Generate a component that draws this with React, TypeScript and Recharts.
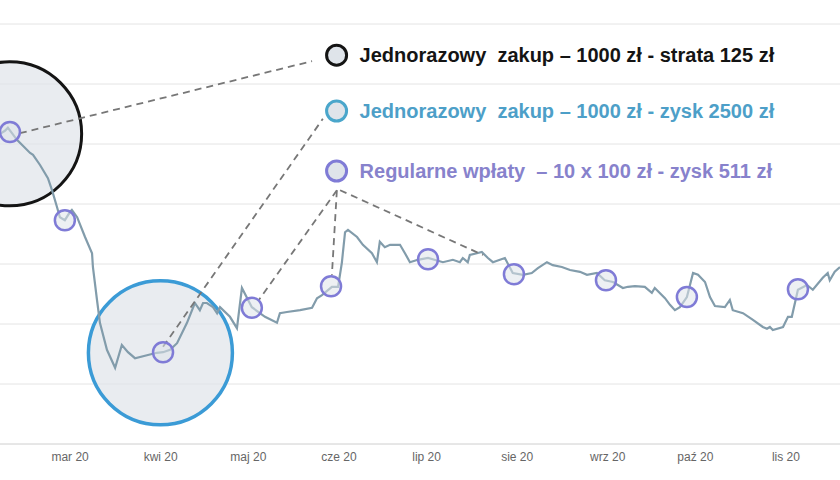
import {
  ComposedChart,
  Line,
  Scatter,
  XAxis,
  YAxis,
  CartesianGrid,
  ReferenceDot,
  ReferenceLine,
  Label,
} from "recharts";

// days counted from 1 Feb 2020
const days = [
  5.0, 6.7, 7.7, 9.1, 10.8, 15.3, 16.3, 18.7, 21.4, 22.8, 24.5, 25.5, 27.2, 29.0, 29.6, 31.4,
  34.1, 36.5, 36.8, 38.2, 39.2, 41.6, 44.4, 46.7, 48.8, 51.2, 55.3, 58.7, 60.8, 63.2, 65.6,
  69.0, 71.7, 73.4, 74.5, 75.8, 77.9, 79.3, 80.3, 83.7, 86.1, 87.8, 91.2, 95.7, 99.8, 100.8,
  103.2, 107.7, 111.8, 113.5, 115.2, 118.6, 120.7, 122.0, 123.1, 124.1, 127.2, 129.2, 132.3,
  134.0, 135.0, 136.7, 138.5, 141.9, 143.6, 145.3, 148.0, 151.5, 156.6, 160.0, 162.4, 163.4,
  165.1, 165.8, 168.2, 169.9, 172.0, 173.7, 176.1, 177.8, 180.5, 184.0, 187.0, 189.1, 192.2,
  194.2, 197.3, 200.1, 203.5, 205.9, 209.3, 212.0, 214.8, 218.2, 219.9, 222.3, 225.7, 228.1,
  229.1, 232.6, 234.3, 236.0, 237.7, 240.1, 242.2, 243.9, 246.3, 248.0, 249.7, 253.1, 254.8,
  255.8, 259.3, 262.7, 266.1, 267.5, 268.5, 269.5, 273.0, 274.7, 276.0, 278.1, 281.2, 283.2,
  286.6, 288.3, 289.0, 290.7, 292.5,
];
const prices = [
  51.7, 52.2, 52.7, 51.8, 50.7, 48.5, 48.2, 46.5, 44.3, 42.3, 39.5, 37.8, 37.3, 38.7, 39.0, 37.8,
  34.5, 31.8, 29.5, 24.0, 20.2, 15.7, 12.7, 16.5, 15.3, 14.3, 14.8, 15.2, 15.3, 15.7, 16.8,
  20.2, 23.5, 22.3, 23.5, 23.5, 22.8, 21.8, 22.8, 21.2, 19.3, 26.0, 22.8, 21.2, 20.2, 21.8,
  22.0, 22.3, 22.7, 24.3, 24.8, 26.2, 26.2, 30.2, 35.3, 35.7, 34.5, 33.2, 31.8,
  30.3, 33.7, 32.8, 33.2, 33.2, 31.8, 30.3, 30.7, 31.0, 30.3, 30.7, 30.3, 31.0,
  30.3, 31.5, 31.8, 32.0, 31.0, 30.3, 30.7, 31.0, 28.5, 28.2, 28.5, 29.3, 30.3,
  29.8, 29.5, 29.0, 28.7, 28.2, 28.5, 27.3, 27.0, 26.0, 26.2, 26.3, 26.2, 25.2,
  26.0, 24.3, 23.2, 22.3, 22.8, 24.5, 28.5, 28.2, 27.0, 24.5, 23.0, 22.8, 24.0,
  22.3, 21.8, 20.7, 19.5, 19.2, 19.5, 19.0, 19.5, 21.2, 21.2, 25.7, 26.5, 25.7,
  27.7, 28.5, 27.3, 28.7, 29.5,
];

// monthly 100 zł deposits
const depositDays = [8.4, 27.2, 60.8, 91.2, 118.3, 151.5, 180.9, 212.4, 240.1, 278.1];
const depositPrices = [52.0, 37.3, 15.3, 22.7, 26.3, 30.8, 28.3, 27.3, 24.5, 25.8];

// one-off purchase moments (big highlight circles)
const buyDays = [8.3, 59.9];
const buyPrices = [51.7, 15.2];
const buyColors = ["#141414", "#3b9bd6"];

const tickDays = [29, 60, 90, 121, 151, 182, 213, 243, 274];
const tickLabels = ["mar 20", "kwi 20", "maj 20", "cze 20", "lip 20", "sie 20", "wrz 20", "paź 20", "lis 20"];

const legendTexts = [
  "Jednorazowy\u00A0 zakup – 1000 zł - strata 125 zł",
  "Jednorazowy\u00A0 zakup – 1000 zł - zysk 2500 zł",
  "Regularne wpłaty\u00A0 – 10 x 100 zł - zysk 511 zł",
];
const legendDay = 120.2;
const legendPrices = [64.8, 55.5, 45.5];

// dashed pointers [fromDay, fromPrice, toDay, toPrice]
const pointers = [
  [11.8, 51.8, 111.8, 63.8],
  [60.8, 16.2, 115.5, 54.2],
  [120.3, 42.3, 93.6, 24.0],
  [120.3, 42.3, 118.6, 28.2],
  [121.4, 42.3, 170.3, 31.5],
];

const lineData = days.map((d, i) => ({ day: d, price: prices[i] }));
const depositData = depositDays.map((d, i) => ({ day: d, price: depositPrices[i] }));
const buyData = buyDays.map((d, i) => ({ day: d, price: buyPrices[i], color: buyColors[i] }));

const BLACK = "#141414";
const TEAL = "#4aa6cb";
const PURPLE = "#7f7bd6";
const FILL = "#dfe4ea";

export default function App() {
  return (
    <div
      style={{
        position: "absolute",
        left: 0,
        top: 0,
        width: 840,
        height: 480,
        background: "#fff",
        fontFamily: "'Liberation Sans', Arial, sans-serif",
      }}
    >
      <ComposedChart width={840} height={480} margin={{ top: 24, right: 0, left: 0, bottom: 0 }}>
        <CartesianGrid vertical={false} stroke="#e4e4e4" />
        <XAxis
          type="number"
          dataKey="day"
          domain={[5, 292.5]}
          ticks={tickDays}
          interval={0}
          allowDataOverflow
          height={36}
          tickLine={false}
          axisLine={{ stroke: "#dcdcdc" }}
          tick={{ fill: "#666", fontSize: 12 }}
          tickFormatter={(v: number) => tickLabels[tickDays.indexOf(v)]}
        />
        <YAxis hide dataKey="price" domain={[0, 70]} ticks={[0, 10, 20, 30, 40, 50, 60, 70]} />

        <Scatter
          data={buyData}
          dataKey="price"
          isAnimationActive={false}
          zIndex={-50}
          shape={(p: any) => (
            <circle
              cx={p.cx}
              cy={p.cy}
              r={72}
              fill={FILL}
              fillOpacity={0.7}
              stroke={p.payload.color}
              strokeWidth={p.payload.color === BLACK ? 3 : 3.5}
            />
          )}
        />
        <Line
          data={lineData}
          dataKey="price"
          type="linear"
          stroke="#829cab"
          strokeWidth={2.2}
          dot={false}
          isAnimationActive={false}
        />
        <Scatter
          data={depositData}
          dataKey="price"
          isAnimationActive={false}
          shape={(p: any) => (
            <circle cx={p.cx} cy={p.cy} r={10} fill={FILL} fillOpacity={0.55} stroke={PURPLE} strokeWidth={2.5} />
          )}
        />

        {pointers.map((s, i) => (
          <ReferenceLine
            key={i}
            segment={[
              { x: s[0], y: s[1] },
              { x: s[2], y: s[3] },
            ]}
            stroke="#777"
            strokeWidth={1.8}
            strokeDasharray="7 5"
          />
        ))}

        <ReferenceDot x={legendDay} y={legendPrices[0]} r={10} fill={FILL} stroke={BLACK} strokeWidth={3}>
          <Label value={legendTexts[0]} position="right" offset={13} fill={BLACK} fontSize={20} fontWeight="bold" />
        </ReferenceDot>
        <ReferenceDot x={legendDay} y={legendPrices[1]} r={10} fill={FILL} stroke={TEAL} strokeWidth={3}>
          <Label value={legendTexts[1]} position="right" offset={13} fill="#4d9fc8" fontSize={20} fontWeight="bold" />
        </ReferenceDot>
        <ReferenceDot x={legendDay} y={legendPrices[2]} r={10} fill={FILL} stroke={PURPLE} strokeWidth={3}>
          <Label value={legendTexts[2]} position="right" offset={13} fill="#8782cc" fontSize={20} fontWeight="bold" />
        </ReferenceDot>
      </ComposedChart>
    </div>
  );
}
